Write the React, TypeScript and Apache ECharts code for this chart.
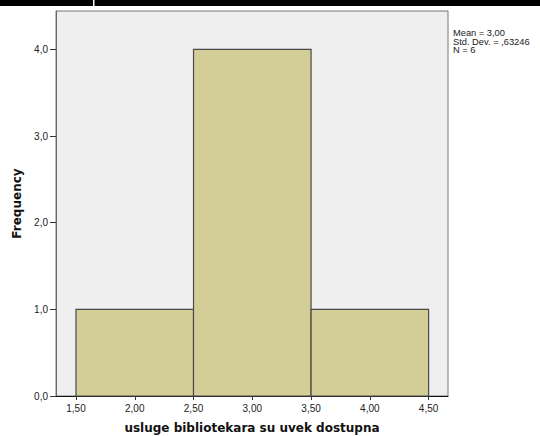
import React, { useEffect, useRef } from "react";
import * as echarts from "echarts";

const binStarts = [1.5, 2.5, 3.5];
const binEnds = [2.5, 3.5, 4.5];
const counts = [1, 4, 1];
const xTicks = [1.5, 2.0, 2.5, 3.0, 3.5, 4.0, 4.5];
const yTicks = [0, 1, 2, 3, 4];
const statsLines = ["Mean = 3,00", "Std. Dev. = ,63246", "N = 6"];
const xTitle = "usluge bibliotekara su uvek dostupna";
const yTitle = "Frequency";

export default function App() {
  const ref = useRef<HTMLDivElement>(null);
  useEffect(() => {
    if (!ref.current) return;
    document.body.style.margin = "0";
    const chart = echarts.init(ref.current, null, { renderer: "svg" });
    const data = binStarts.map((s, i) => [s, binEnds[i], counts[i]]);
    chart.setOption({
      animation: false,
      backgroundColor: "#ffffff",
      grid: {
        left: 56,
        right: 92,
        top: 11,
        bottom: 40,
        outerBoundsMode: "none",
        containLabel: false,
        show: true,
        backgroundColor: "#efefef",
        borderColor: "#777777",
        borderWidth: 1,
      },
      xAxis: {
        type: "value",
        min: 1.33,
        max: 4.665,
        splitLine: { show: false },
        axisLine: { show: true, lineStyle: { color: "#111", width: 1 } },
        axisTick: {
          show: true,
          length: 4,
          customValues: xTicks,
          lineStyle: { color: "#333" },
        },
        axisLabel: {
          customValues: xTicks,
          margin: 7,
          fontSize: 10,
          color: "#222",
          fontFamily: "Liberation Sans, Arial, sans-serif",
          formatter: (v: number) => v.toFixed(2).replace(".", ","),
        },
        name: xTitle,
        nameLocation: "middle",
        nameGap: 26,
        nameTextStyle: {
          fontFamily: "DejaVu Sans",
          fontWeight: "bold",
          fontSize: 12,
          color: "#111",
        },
      },
      yAxis: {
        type: "value",
        min: 0,
        max: 4.444,
        splitLine: { show: false },
        axisLine: { show: true, lineStyle: { color: "#666", width: 1 } },
        axisTick: {
          show: true,
          length: 6,
          customValues: yTicks,
          lineStyle: { color: "#333" },
        },
        axisLabel: {
          customValues: yTicks,
          margin: 8,
          fontSize: 10,
          color: "#222",
          fontFamily: "Liberation Sans, Arial, sans-serif",
          formatter: (v: number) => v.toFixed(1).replace(".", ","),
        },
        name: yTitle,
        nameLocation: "middle",
        nameGap: 30,
        nameTextStyle: {
          fontFamily: "DejaVu Sans",
          fontWeight: "bold",
          fontSize: 12,
          color: "#111",
        },
      },
      series: [
        {
          type: "custom",
          data,
          encode: { x: [0, 1], y: 2 },
          renderItem: (params: any, api: any) => {
            const p0 = api.coord([api.value(0), api.value(2)]);
            const p1 = api.coord([api.value(1), 0]);
            return {
              type: "rect",
              shape: { x: p0[0], y: p0[1], width: p1[0] - p0[0], height: p1[1] - p0[1] },
              style: { fill: "#d3ce98", stroke: "#4a4a4a", lineWidth: 1.2 },
            };
          },
        },
      ],
      graphic: [
        { type: "rect", left: 0, top: 0, shape: { x: 0, y: 0, width: 540, height: 6 }, style: { fill: "#000" } },
        { type: "rect", shape: { x: 93, y: 0, width: 1.5, height: 6 }, style: { fill: "#fff" } },
        {
          type: "text",
          x: 453,
          y: 29,
          style: {
            text: statsLines.join("\n"),
            fontSize: 9.3,
            lineHeight: 8.5,
            fill: "#222",
            fontFamily: "Liberation Sans, Arial, sans-serif",
          },
        },
      ],
    });
    return () => chart.dispose();
  }, []);
  return <div ref={ref} style={{ position: "absolute", left: 0, top: 0, width: 540, height: 436 }} />;
}
